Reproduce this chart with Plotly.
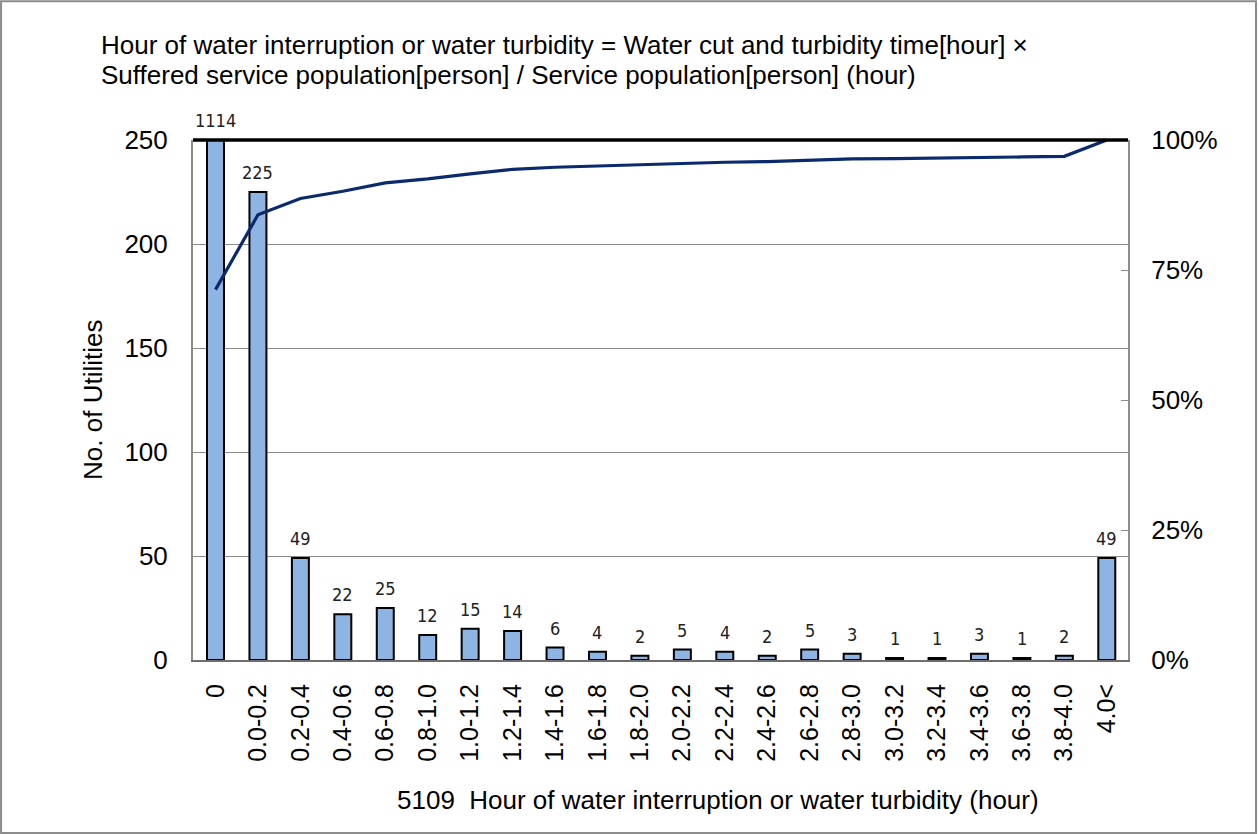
import plotly.graph_objects as go

categories = ["0", "0.0-0.2", "0.2-0.4", "0.4-0.6", "0.6-0.8", "0.8-1.0", "1.0-1.2",
              "1.2-1.4", "1.4-1.6", "1.6-1.8", "1.8-2.0", "2.0-2.2", "2.2-2.4",
              "2.4-2.6", "2.6-2.8", "2.8-3.0", "3.0-3.2", "3.2-3.4", "3.4-3.6",
              "3.6-3.8", "3.8-4.0", "4.0<"]
counts = [1114, 225, 49, 22, 25, 12, 15, 14, 6, 4, 2, 5, 4, 2, 5, 3, 1, 1, 3, 1, 2, 49]
cumulative_pct = [71.23, 85.61, 88.75, 90.15, 91.75, 92.52, 93.48, 94.37, 94.76, 95.01,
                  95.14, 95.46, 95.72, 95.84, 96.16, 96.36, 96.42, 96.48, 96.68, 96.74,
                  96.87, 100.0]
left_ticks = [0, 50, 100, 150, 200, 250]
right_ticks = [0, 25, 50, 75, 100]
right_labels = ["0%", "25%", "50%", "75%", "100%"]

title_lines = ["Hour of water interruption or water turbidity = Water cut and turbidity time[hour] \u00d7",
               "Suffered service population[person] / Service population[person] (hour)"]
xtitle = "5109\u00a0\u00a0Hour of water interruption or water turbidity (hour)"
ytitle = "No. of Utilities"

YMAX = 250
FONT = "Liberation Sans, Arial, sans-serif"

fig = go.Figure()
fig.add_trace(go.Bar(
    x=categories, y=counts,
    marker=dict(color="#8DB4E2", line=dict(color="black", width=2)),
    width=0.4, cliponaxis=True, showlegend=False,
))
fig.add_trace(go.Scatter(
    x=categories, y=cumulative_pct, yaxis="y2", mode="lines",
    line=dict(color="#0B2A6E", width=3.2), showlegend=False, cliponaxis=False,
))

for c, v in zip(categories, counts):
    fig.add_annotation(x=c, y=min(v, YMAX), text=str(v), showarrow=False,
                       yanchor="bottom", yshift=7,
                       font=dict(family="DejaVu Sans Condensed, DejaVu Sans, sans-serif",
                                 size=18, color="#222"))

for i, line in enumerate(title_lines):
    fig.add_annotation(xref="paper", yref="paper", x=-0.101, y=1.182 - i * 0.0577,
                       xanchor="left", yanchor="middle", align="left", text=line,
                       showarrow=False, font=dict(family=FONT, size=26, color="black"))
fig.add_annotation(xref="paper", yref="paper", x=0.5615, y=-0.269, xanchor="center",
                   yanchor="middle", text=xtitle, showarrow=False,
                   font=dict(family=FONT, size=26, color="black"))
fig.add_annotation(xref="paper", yref="paper", x=-0.107, y=0.5, xanchor="center",
                   yanchor="middle", text=ytitle, textangle=-90, showarrow=False,
                   font=dict(family=FONT, size=26, color="black"))

# top black border of plot area
fig.add_shape(type="line", xref="paper", yref="paper", x0=0, x1=1, y0=1, y1=1,
              line=dict(color="black", width=3.5))
# outer chart frame
fig.add_shape(type="rect", xref="paper", yref="paper", x0=-0.2053, x1=1.1369,
              y0=-0.3327, y1=1.267, line=dict(color="#8C8C8C", width=2))

fig.update_layout(
    width=1259, height=834,
    margin=dict(l=193, r=131, t=140, b=174, autoexpand=False),
    plot_bgcolor="white", paper_bgcolor="white",
    bargap=0.6,
    font=dict(family=FONT, color="black"),
    xaxis=dict(type="category", tickangle=-90, tickfont=dict(size=25),
               showline=True, linecolor="#6E6E6E", linewidth=2, mirror=False,
               ticks="", showgrid=False, automargin=False, ticklabelstandoff=12),
    yaxis=dict(range=[0, YMAX], tickvals=left_ticks, tickfont=dict(size=26),
               showgrid=True, gridcolor="#8C8C8C", gridwidth=1.2,
               showline=True, linecolor="#8C8C8C", linewidth=2,
               ticks="", zeroline=False, automargin=False, ticklabelstandoff=18),
    yaxis2=dict(range=[0, 100], overlaying="y", side="right", tickvals=right_ticks,
                ticktext=right_labels, tickfont=dict(size=26), showgrid=False,
                showline=True, linecolor="#8C8C8C", linewidth=2,
                ticks="inside", ticklen=7, tickcolor="#8C8C8C", zeroline=False,
                automargin=False, ticklabelstandoff=16),
)

fig.write_html("out.html", post_script="document.body.style.margin='0';",
               config={"displayModeBar": False})
